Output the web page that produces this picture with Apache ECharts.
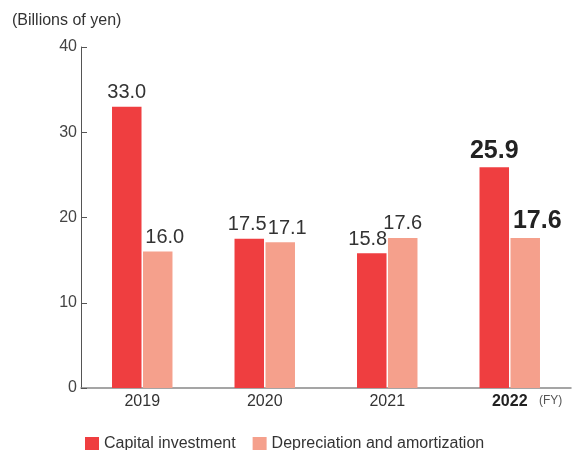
<!DOCTYPE html>
<html>
<head>
<meta charset="utf-8">
<script src="https://cdn.jsdelivr.net/npm/echarts@6/dist/echarts.min.js"></script>
<style>
  html, body { margin: 0; padding: 0; background: #fff; }
  #chart { width: 572px; height: 450px; }
</style>
</head>
<body>
<div id="chart"></div>
<script>
// Fiscal years and values (billions of yen)
const years = ['2019', '2020', '2021', '2022'];
const capitalInvestment = [33.0, 17.5, 15.8, 25.9];
const depreciation = [16.0, 17.1, 17.6, 17.6];
const yTicks = [0, 10, 20, 30, 40];

// Horizontal nudges for value labels so neighbouring labels do not collide
const capitalLabelShift = [0, -2, -4, 0];
const depreciationLabelShift = [7, 7, 0, 12];

const FONT = '"Liberation Sans", Arial, sans-serif';
const RED = '#EF3E40';
const SALMON = '#F5A08C';
const latest = years.length - 1;

function seriesData(values, shifts) {
  return values.map((v, i) => {
    const label = { offset: [shifts[i], 0] };
    if (i === latest) Object.assign(label, { fontSize: 25, fontWeight: 'bold', color: '#222' });
    return { value: v, label };
  });
}

const valueLabel = {
  show: true, position: 'top', distance: 4,
  fontSize: 20, color: '#333', fontFamily: FONT,
  formatter: p => p.value.toFixed(1)
};

const chart = echarts.init(document.getElementById('chart'));
chart.setOption({
  animation: false,
  textStyle: { fontFamily: FONT },
  grid: { left: 81, right: 1, top: 47, bottom: 62 },
  legend: {
    left: 80, top: 431,
    itemWidth: 14, itemHeight: 14, itemGap: 17,
    icon: 'rect',
    textStyle: { fontSize: 16, color: '#333', fontFamily: FONT },
    data: ['Capital investment', 'Depreciation and amortization']
  },
  xAxis: {
    type: 'category',
    data: years,
    axisLine: { lineStyle: { color: '#888', width: 1.5 } },
    axisTick: { inside: true, length: 6, lineStyle: { color: '#666' } },
    axisLabel: {
      margin: 6,
      fontSize: 16,
      color: '#333',
      fontFamily: FONT,
      formatter: (v, i) => i === latest ? '{b|' + v + '}' : v,
      rich: { b: { fontSize: 16, fontWeight: 'bold', color: '#222', fontFamily: FONT } }
    }
  },
  yAxis: {
    type: 'value',
    min: yTicks[0], max: yTicks[yTicks.length - 1], interval: 10,
    axisLine: { show: true, lineStyle: { color: '#555', width: 1 } },
    axisTick: { show: true, inside: true, length: 6, lineStyle: { color: '#555' } },
    splitLine: { show: false },
    axisLabel: { fontSize: 16, color: '#444', margin: 4, fontFamily: FONT }
  },
  graphic: [
    { type: 'text', left: 12, top: 13,
      style: { text: '(Billions of yen)', font: '16px ' + FONT, fill: '#333' } },
    { type: 'text', left: 539, top: 395,
      style: { text: '(FY)', font: '12px ' + FONT, fill: '#555' } }
  ],
  series: [
    {
      name: 'Capital investment',
      type: 'bar',
      data: seriesData(capitalInvestment, capitalLabelShift),
      barWidth: 29.5,
      barGap: '5%',
      itemStyle: { color: RED },
      label: valueLabel
    },
    {
      name: 'Depreciation and amortization',
      type: 'bar',
      data: seriesData(depreciation, depreciationLabelShift),
      barWidth: 29.5,
      itemStyle: { color: SALMON },
      label: valueLabel
    }
  ]
});
</script>
</body>
</html>
